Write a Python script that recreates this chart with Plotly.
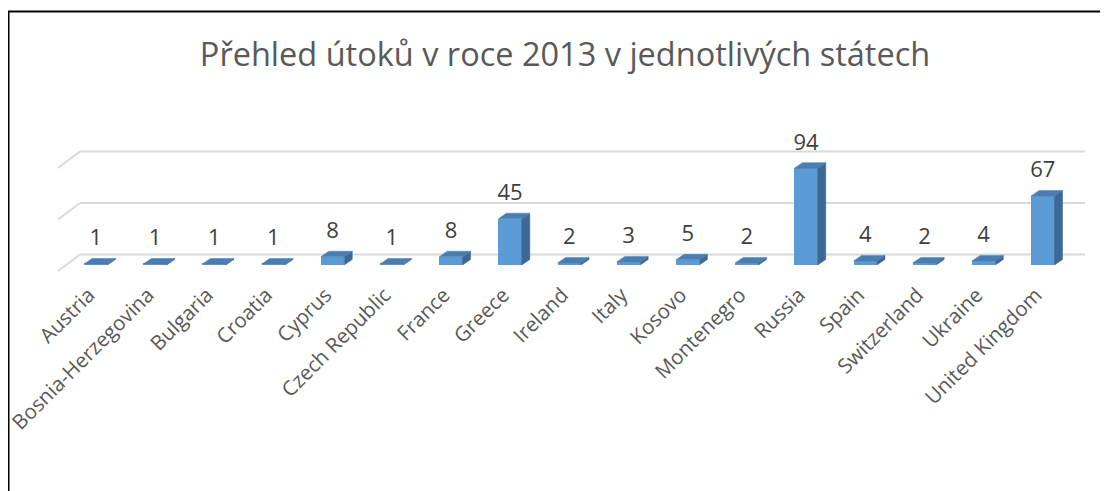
import plotly.graph_objects as go

# ---- data ----
countries = ["Austria", "Bosnia-Herzegovina", "Bulgaria", "Croatia", "Cyprus",
             "Czech Republic", "France", "Greece", "Ireland", "Italy", "Kosovo",
             "Montenegro", "Russia", "Spain", "Switzerland", "Ukraine", "United Kingdom"]
attacks = [1, 1, 1, 1, 8, 1, 8, 45, 2, 3, 5, 2, 94, 4, 2, 4, 67]
grid_values = [0, 50, 100]
title_text = "Přehled útoků v roce 2013 v jednotlivých státech"

FONT = "Open Sans, Lato, sans-serif"

# ---- geometry (pixel-based pseudo 3D; page body adds 8px offset) ----
OFF = 8
W, H = 1108, 491
ML, MR, MT, MB = 46, 18, 132, 221
PX_X = 59.19          # px per category
X0_PX = 95.8 - OFF    # px of category 0 centre
PX_Y = 1.03           # px per unit
Y0_PX = 265.0 - OFF   # px of value 0 (bar front)

x_rng = [(ML - X0_PX) / PX_X, (W - MR - X0_PX) / PX_X]
y_rng = [(Y0_PX - (H - MB)) / PX_Y, (Y0_PX - MT) / PX_Y]

bar_w = 0.395
ddx = 8 / PX_X        # bar depth shift (x)
ddy = 5.5 / PX_Y      # bar depth shift (y)

front_x = (58 - OFF - X0_PX) / PX_X
back_x = (80 - OFF - X0_PX) / PX_X
right_x = (1085 - OFF - X0_PX) / PX_X
front_dy = -6 / PX_Y
back_dy = 10.5 / PX_Y

idx = list(range(len(countries)))

fig = go.Figure()

# front faces
fig.add_trace(go.Bar(x=idx, y=attacks, width=bar_w,
                     marker=dict(color="#5B9BD5", line=dict(width=0)),
                     hoverinfo="skip", showlegend=False))

# side faces
sx, sy = [], []
for i, v in zip(idx, attacks):
    r = i + bar_w / 2
    sx += [r, r + ddx, r + ddx, r, r, None]
    sy += [0, ddy, v + ddy, v, 0, None]
fig.add_trace(go.Scatter(x=sx, y=sy, mode="lines", fill="toself",
                         fillcolor="#3C6894", line=dict(width=0.5, color="#3C6894"),
                         hoverinfo="skip", showlegend=False))

# top faces
tx, ty = [], []
for i, v in zip(idx, attacks):
    l = i - bar_w / 2
    r = i + bar_w / 2
    tx += [l, r, r + ddx, l + ddx, l, None]
    ty += [v, v, v + ddy, v + ddy, v, None]
fig.add_trace(go.Scatter(x=tx, y=ty, mode="lines", fill="toself",
                         fillcolor="#4A7DB0", line=dict(width=0.5, color="#4A7DB0"),
                         hoverinfo="skip", showlegend=False))

# data labels
fig.add_trace(go.Scatter(x=idx, y=[v + 24 / PX_Y for v in attacks], mode="text",
                         text=[str(v) for v in attacks], textposition="middle center",
                         textfont=dict(family=FONT, size=22, color="#404040"),
                         cliponaxis=False, hoverinfo="skip", showlegend=False))

shapes = []
for g in grid_values:
    shapes.append(dict(type="line", xref="x", yref="y", layer="below",
                       x0=front_x, y0=g + front_dy, x1=back_x, y1=g + back_dy,
                       line=dict(color="#D9D9D9", width=2)))
    shapes.append(dict(type="line", xref="x", yref="y", layer="below",
                       x0=back_x, y0=g + back_dy, x1=right_x, y1=g + back_dy,
                       line=dict(color="#D9D9D9", width=2)))

pw = W - ML - MR
ph = H - MT - MB
shapes.append(dict(type="rect", xref="paper", yref="paper",
                   x0=(0.5 - ML) / pw, x1=(1114 - ML) / pw,
                   y0=((H - MB) - 520) / ph, y1=((H - MB) - 3.5) / ph,
                   line=dict(color="black", width=2), fillcolor="rgba(0,0,0,0)"))

fig.update_layout(
    width=W, height=H,
    margin=dict(l=ML, r=MR, t=MT, b=MB, pad=0, autoexpand=False),
    paper_bgcolor="white", plot_bgcolor="white",
    shapes=shapes,
    bargap=0,
    title=dict(text=title_text, x=(565 - OFF) / W, xanchor="center", y=1 - (55 - OFF) / H,
               yanchor="middle",
               font=dict(family=FONT, size=32.5, color="#595959")),
    xaxis=dict(range=x_rng, tickmode="array", tickvals=idx, ticktext=countries,
               tickangle=-45, showgrid=False, zeroline=False, showline=False, ticks="",
               tickfont=dict(family=FONT, size=20.5, color="#595959"),
               ticklabelshift=-7, ticklabeloverflow="allow", automargin=False,
               fixedrange=True),
    yaxis=dict(range=y_rng, showgrid=False, zeroline=False, showline=False,
               showticklabels=False, ticks="", fixedrange=True, automargin=False),
    font=dict(family=FONT),
)

fig.write_html("out.html")
